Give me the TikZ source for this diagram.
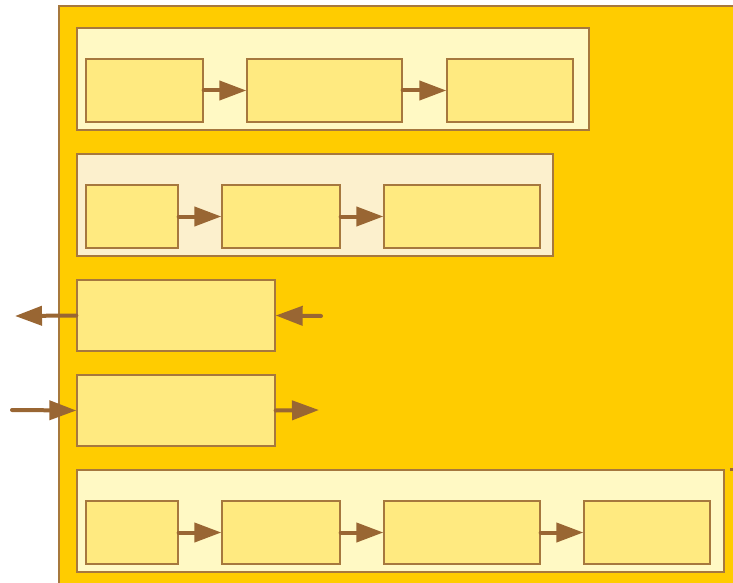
\documentclass[tikz,border=0pt]{standalone}
\usetikzlibrary{arrows.meta}
\definecolor{cframe}{RGB}{255,204,0}
\definecolor{cedge}{RGB}{166,120,62}
\definecolor{cpanel}{RGB}{255,249,196}
\definecolor{cpanelb}{RGB}{252,240,205}
\definecolor{cbox}{RGB}{255,234,128}
\definecolor{clink}{RGB}{153,102,51}
\tikzset{
  pbox/.style={    % light group panel
    draw=cedge, fill=cpanel, line width=1.3pt,
    minimum height=102pt, inner sep=0pt
  },
  ibox/.style={    % inner step box
    draw=cedge, fill=cbox, line width=1.3pt,
    minimum height=63pt, inner sep=0pt
  },
  sbox/.style={    % stand-alone box
    draw=cedge, fill=cbox, line width=1.3pt,
    minimum width=198pt, minimum height=71pt, inner sep=0pt
  },
  link/.style={-{Triangle[length=27pt, width=19pt]}, line width=4pt,
    line cap=round, color=clink},
}
\begin{document}
\begin{tikzpicture}[x=1pt, y=-1pt]
\useasboundingbox (0,0) rectangle (733,583);
\clip (0,0) rectangle (733,583);

%% ─── outer frame ─────────────────────────────────────────────────────────────
\draw[draw=cedge, fill=cframe, line width=1.3pt] (59,6) rectangle (760,600);

%% ─── first panel ─────────────────────────────────────────────────────────────
\node[pbox, minimum width=512pt] (p1) at (333,79) {};
\node[ibox, minimum width=117pt] (b11) at (144.5,90.5) {};
\node[ibox, minimum width=155pt] (b12) at (324.5,90.5) {};
\node[ibox, minimum width=126pt] (b13) at (510,90.5) {};

\draw[link] (b11.east) -- (b12.west);
\draw[link] (b12.east) -- (b13.west);

%% ─── second panel ────────────────────────────────────────────────────────────
\node[pbox, fill=cpanelb, minimum width=476pt] (p2) at (315,205) {};
\node[ibox, minimum width=92pt]  (b21) at (132,216.5) {};
\node[ibox, minimum width=118pt] (b22) at (281,216.5) {};
\node[ibox, minimum width=156pt] (b23) at (462,216.5) {};

\draw[link] (b21.east) -- (b22.west);
\draw[link] (b22.east) -- (b23.west);

%% ─── single boxes ────────────────────────────────────────────────────────────
\node[sbox] (s1) at (176,315.5) {};
\node[sbox] (s2) at (176,410.5) {};

\coordinate (s1out) at (15,316);
\coordinate (s1in)  at (321,316);
\coordinate (s2in)  at (12,410);
\coordinate (s2out) at (319,410);

\draw[link] (s1.west) -- (s1out);
\draw[link] (s1in) -- (s1.east);
\draw[link] (s2in) -- (s2.west);
\draw[link] (s2.east) -- (s2out);

%% ─── last panel ──────────────────────────────────────────────────────────────
\node[pbox, minimum width=647pt] (p5) at (400.5,521) {};
\node[ibox, minimum width=92pt]  (b51) at (132,532.5) {};
\node[ibox, minimum width=118pt] (b52) at (281,532.5) {};
\node[ibox, minimum width=156pt] (b53) at (462,532.5) {};
\node[ibox, minimum width=126pt] (b54) at (647,532.5) {};

\draw[link] (b51.east) -- (b52.west);
\draw[link] (b52.east) -- (b53.west);
\draw[link] (b53.east) -- (b54.west);

% stub leaving on the right
\coordinate (stubA) at (730,469);
\coordinate (stubB) at (745,469);
\draw[line width=3pt, color=clink] (stubA) -- (stubB);

\end{tikzpicture}
\end{document}
